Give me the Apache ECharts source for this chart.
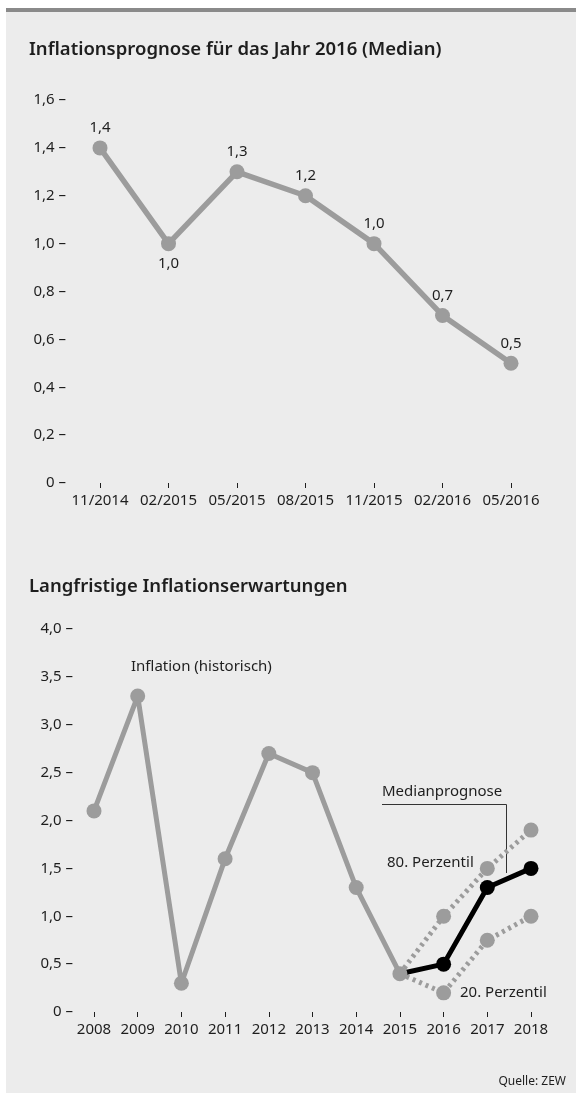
<!DOCTYPE html>
<html>
<head>
<meta charset="utf-8">
<script src="https://cdn.jsdelivr.net/npm/echarts@6/dist/echarts.min.js"></script>
<style>
  html, body { margin: 0; padding: 0; background: #ffffff; }
  #chart { width: 576px; height: 1095px; }
</style>
</head>
<body>
<div id="chart"></div>
<script>
// Inflationsprognose 2016 (Median), quarterly survey rounds
const quarters = ['11/2014', '02/2015', '05/2015', '08/2015', '11/2015', '02/2016', '05/2016'];
const median2016 = [1.4, 1.0, 1.3, 1.2, 1.0, 0.7, 0.5];
const median2016LabelSide = ['top', 'bottom', 'top', 'top', 'top', 'top', 'top'];

// Langfristige Inflationserwartungen
const years = ['2008', '2009', '2010', '2011', '2012', '2013', '2014', '2015', '2016', '2017', '2018'];
const inflationHistoric = [2.1, 3.3, 0.3, 1.6, 2.7, 2.5, 1.3, 0.4, null, null, null];
const medianForecast = [null, null, null, null, null, null, null, 0.4, 0.5, 1.3, 1.5];
const percentile80 = [null, null, null, null, null, null, null, 0.4, 1.0, 1.5, 1.9];
const percentile20 = [null, null, null, null, null, null, null, 0.4, 0.2, 0.75, 1.0];

const FONT = '"Noto Sans", "Open Sans", sans-serif';
const TEXT = '#1e1e1e';
const GREY = '#9c9c9c';
const FS = 15;

const deNum = v => (v === 0 ? '0' : v.toFixed(1).replace('.', ','));
const yLabel = v => deNum(v) + ' \u2013';

// first point of each forecast series sits on the historic 2015 value
const forecastData = arr => arr.map((v, i) => (i === 7 ? { value: v, symbol: 'none' } : v));

const chart = echarts.init(document.getElementById('chart'), null, { renderer: 'canvas' });

const catAxis = (gridIndex, data) => ({
  gridIndex, type: 'category', data, boundaryGap: false,
  axisLine: { show: false },
  axisTick: { show: true, length: 5, inside: false, interval: 0, lineStyle: { color: TEXT, width: 1 } },
  axisLabel: { margin: 10, interval: 0, fontSize: FS, color: TEXT, fontFamily: FONT }
});

const option = {
  backgroundColor: '#ffffff',
  animation: false,
  textStyle: { fontFamily: FONT, color: TEXT },
  title: [
    {
      text: 'Inflationsprognose für das Jahr 2016 (Median)',
      left: 29, top: 40, padding: 0,
      textStyle: { fontFamily: FONT, fontSize: 18.5, fontWeight: 600, color: TEXT }
    },
    {
      text: 'Langfristige Inflationserwartungen',
      left: 29, top: 577, padding: 0,
      textStyle: { fontFamily: FONT, fontSize: 18.5, fontWeight: 600, color: TEXT }
    }
  ],
  grid: [
    { left: 100, right: 65, top: 100, bottom: 612 },
    { left: 94, right: 45, top: 629, bottom: 83 }
  ],
  xAxis: [catAxis(0, quarters), catAxis(1, years)],
  yAxis: [
    {
      gridIndex: 0, type: 'value', min: 0, max: 1.6, interval: 0.2,
      axisLine: { show: false }, axisTick: { show: false }, splitLine: { show: false },
      axisLabel: { margin: 34, fontSize: FS, color: TEXT, fontFamily: FONT, formatter: yLabel }
    },
    {
      gridIndex: 1, type: 'value', min: 0, max: 4, interval: 0.5,
      axisLine: { show: false }, axisTick: { show: false }, splitLine: { show: false },
      axisLabel: { margin: 21, fontSize: FS, color: TEXT, fontFamily: FONT, formatter: yLabel }
    }
  ],
  series: [
    {
      name: 'Median 2016', type: 'line', xAxisIndex: 0, yAxisIndex: 0,
      data: median2016.map((v, i) => ({
        value: v,
        label: { position: median2016LabelSide[i] }
      })),
      symbol: 'circle', symbolSize: 15,
      lineStyle: { color: GREY, width: 5.5 },
      itemStyle: { color: GREY },
      label: {
        show: true, distance: 5, fontSize: FS, color: TEXT, fontFamily: FONT,
        formatter: p => deNum(p.value)
      }
    },
    {
      name: '80. Perzentil', type: 'line', xAxisIndex: 1, yAxisIndex: 1,
      data: forecastData(percentile80),
      symbol: 'circle', symbolSize: 15,
      lineStyle: { color: GREY, width: 5, type: [3, 4] },
      itemStyle: { color: GREY }
    },
    {
      name: '20. Perzentil', type: 'line', xAxisIndex: 1, yAxisIndex: 1,
      data: forecastData(percentile20),
      symbol: 'circle', symbolSize: 15,
      lineStyle: { color: GREY, width: 5, type: [3, 4] },
      itemStyle: { color: GREY }
    },
    {
      name: 'Medianprognose', type: 'line', xAxisIndex: 1, yAxisIndex: 1,
      data: forecastData(medianForecast),
      symbol: 'circle', symbolSize: 15,
      lineStyle: { color: '#000000', width: 5 },
      itemStyle: { color: '#000000' }
    },
    {
      name: 'Inflation (historisch)', type: 'line', xAxisIndex: 1, yAxisIndex: 1,
      data: inflationHistoric,
      symbol: 'circle', symbolSize: 15,
      lineStyle: { color: GREY, width: 5 },
      itemStyle: { color: GREY }
    }
  ],
  graphic: [
    // panel background and top rule
    { type: 'rect', z: -10, silent: true, shape: { x: 6, y: 8, width: 570, height: 1085 }, style: { fill: '#ececec' } },
    { type: 'rect', z: -9, silent: true, shape: { x: 6, y: 8, width: 570, height: 4 }, style: { fill: '#8a8a8a' } },
    // annotations of the lower chart
    { type: 'text', style: { text: 'Inflation (historisch)', x: 131, y: 667, textVerticalAlign: 'middle', font: FS + 'px ' + FONT, fill: TEXT } },
    { type: 'text', style: { text: 'Medianprognose', x: 382, y: 792, textVerticalAlign: 'middle', font: FS + 'px ' + FONT, fill: TEXT } },
    { type: 'polyline', shape: { points: [[382, 804.5], [506.5, 804.5], [506.5, 873]] }, style: { stroke: '#333333', lineWidth: 1, fill: null } },
    { type: 'text', style: { text: '80. Perzentil', x: 387, y: 863, textVerticalAlign: 'middle', font: FS + 'px ' + FONT, fill: TEXT } },
    { type: 'text', style: { text: '20. Perzentil', x: 460, y: 993, textVerticalAlign: 'middle', font: FS + 'px ' + FONT, fill: TEXT } },
    { type: 'text', style: { text: 'Quelle: ZEW', x: 566, y: 1082, textAlign: 'right', textVerticalAlign: 'middle', font: '12px ' + FONT, fill: TEXT } }
  ]
};

chart.setOption(option);
</script>
</body>
</html>
